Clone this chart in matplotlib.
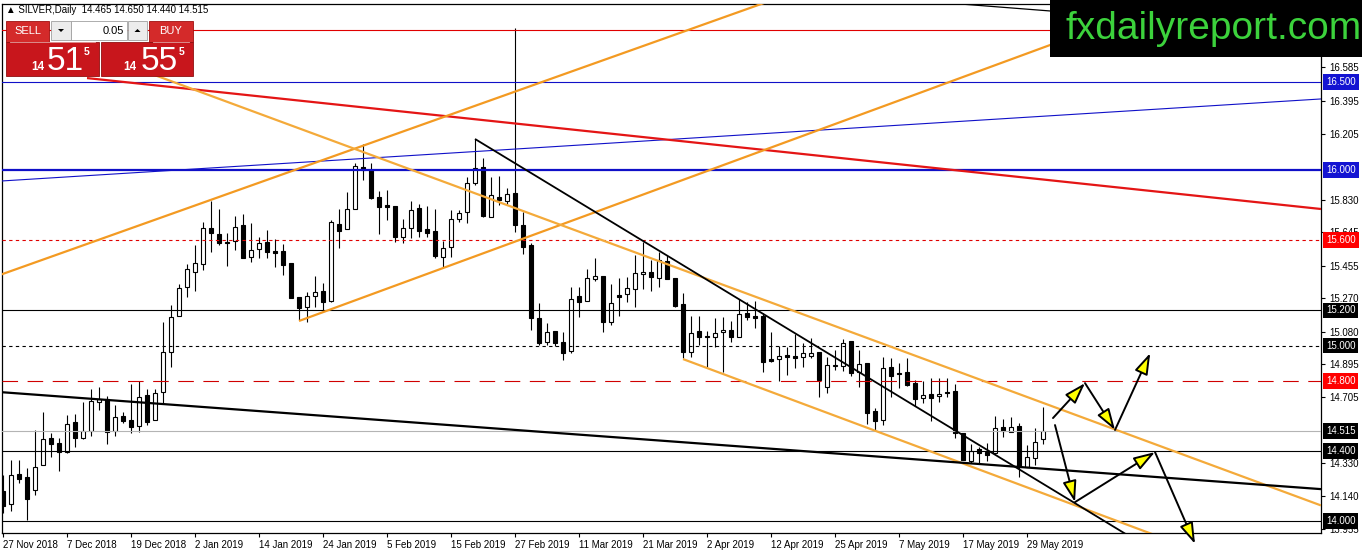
import matplotlib
matplotlib.use('Agg')
import matplotlib.pyplot as plt
from matplotlib.patches import Rectangle, Polygon
import numpy as np

W, H = 1362, 554
FONT = ['Liberation Sans', 'DejaVu Sans']
plt.rcParams['font.family'] = FONT

# SILVER daily candles, first bar = 27 Nov 2018, last bar = 4 Jun 2019
opens = [14.171, 14.097, 14.268, 14.251, 14.177, 14.319, 14.473, 14.444, 14.393, 14.564,
         14.473, 14.513, 14.678, 14.695, 14.513, 14.598, 14.576, 14.541, 14.718, 14.576,
         14.735, 14.963, 15.168, 15.333, 15.419, 15.464, 15.670, 15.635, 15.590, 15.595,
         15.687, 15.504, 15.550, 15.590, 15.538, 15.538, 15.470, 15.276, 15.219, 15.282,
         15.311, 15.254, 15.692, 15.664, 15.778, 16.017, 16.000, 15.846, 15.801, 15.795,
         15.618, 15.670, 15.783, 15.664, 15.652, 15.504, 15.561, 15.721, 15.761, 15.926,
         16.017, 15.732, 15.846, 15.823, 15.869, 15.687, 15.573, 15.157, 15.020, 15.083,
         15.020, 14.969, 15.282, 15.254, 15.379, 15.396, 15.134, 15.288, 15.293, 15.322,
         15.407, 15.419, 15.385, 15.481, 15.385, 15.236, 14.963, 15.083, 15.054, 15.048,
         15.077, 15.088, 15.048, 15.185, 15.168, 15.168, 14.923, 14.923, 14.946, 14.940,
         14.934, 14.940, 14.963, 14.764, 14.883, 14.883, 15.026, 14.849, 14.900, 14.627,
         14.576, 14.877, 14.843, 14.849, 14.786, 14.701, 14.724, 14.712, 14.735, 14.741,
         14.501, 14.342, 14.410, 14.393, 14.387, 14.536, 14.507, 14.541, 14.308, 14.359, 14.465]
highs = [14.262, 14.348, 14.348, 14.302, 14.519, 14.621, 14.501, 14.473, 14.604, 14.610,
         14.678, 14.752, 14.764, 14.712, 14.661, 14.621, 14.781, 14.798, 14.752, 14.752,
         15.134, 15.231, 15.350, 15.464, 15.573, 15.704, 15.823, 15.778, 15.641, 15.738,
         15.749, 15.698, 15.618, 15.658, 15.607, 15.578, 15.470, 15.276, 15.305, 15.396,
         15.356, 15.715, 15.778, 15.875, 16.040, 16.148, 16.040, 15.880, 15.886, 15.795,
         15.721, 15.823, 15.806, 15.795, 15.778, 15.595, 15.772, 15.772, 15.960, 16.177,
         16.068, 15.960, 15.966, 15.897, 16.809, 15.761, 15.584, 15.242, 15.128, 15.083,
         15.077, 15.333, 15.333, 15.436, 15.499, 15.396, 15.350, 15.385, 15.390, 15.516,
         15.590, 15.487, 15.533, 15.516, 15.385, 15.299, 15.168, 15.168, 15.083, 15.157,
         15.162, 15.140, 15.265, 15.248, 15.254, 15.185, 15.077, 14.997, 14.991, 15.066,
         15.014, 15.043, 14.963, 14.934, 14.974, 15.037, 15.026, 14.974, 14.900, 14.644,
         14.934, 14.929, 14.900, 14.929, 14.803, 14.798, 14.815, 14.815, 14.815, 14.781,
         14.501, 14.439, 14.422, 14.444, 14.598, 14.581, 14.593, 14.558, 14.433, 14.530, 14.650]
lows = [14.046, 14.057, 14.217, 14.005, 14.148, 14.319, 14.365, 14.285, 14.387, 14.422,
        14.467, 14.484, 14.632, 14.439, 14.484, 14.558, 14.501, 14.507, 14.547, 14.576,
        14.672, 14.877, 15.168, 15.276, 15.311, 15.430, 15.533, 15.573, 15.453, 15.544,
        15.499, 15.476, 15.499, 15.499, 15.447, 15.402, 15.271, 15.145, 15.134, 15.219,
        15.191, 15.248, 15.556, 15.664, 15.778, 15.943, 15.835, 15.635, 15.715, 15.590,
        15.584, 15.613, 15.618, 15.618, 15.499, 15.447, 15.504, 15.704, 15.698, 15.915,
        15.732, 15.732, 15.801, 15.806, 15.647, 15.521, 15.088, 15.003, 15.003, 14.997,
        14.917, 14.957, 15.162, 15.254, 15.368, 15.077, 15.117, 15.168, 15.248, 15.219,
        15.322, 15.311, 15.333, 15.379, 15.219, 14.929, 14.934, 15.003, 14.877, 14.991,
        14.849, 15.020, 15.048, 15.145, 15.100, 14.849, 14.906, 14.798, 14.832, 14.872,
        14.877, 14.929, 14.707, 14.729, 14.860, 14.855, 14.826, 14.764, 14.553, 14.519,
        14.547, 14.707, 14.758, 14.769, 14.655, 14.672, 14.570, 14.678, 14.707, 14.473,
        14.348, 14.330, 14.330, 14.342, 14.387, 14.479, 14.507, 14.251, 14.308, 14.319, 14.440]
closes = [14.085, 14.262, 14.239, 14.125, 14.308, 14.467, 14.439, 14.393, 14.553, 14.473,
          14.513, 14.684, 14.695, 14.507, 14.593, 14.570, 14.536, 14.707, 14.564, 14.729,
          14.963, 15.162, 15.328, 15.436, 15.470, 15.670, 15.641, 15.584, 15.584, 15.675,
          15.499, 15.544, 15.584, 15.533, 15.527, 15.459, 15.271, 15.214, 15.282, 15.305,
          15.248, 15.704, 15.652, 15.778, 16.023, 16.000, 15.840, 15.789, 15.789, 15.618,
          15.670, 15.772, 15.652, 15.641, 15.510, 15.556, 15.721, 15.755, 15.926, 16.011,
          15.738, 15.858, 15.829, 15.863, 15.687, 15.561, 15.157, 15.014, 15.077, 15.014,
          14.957, 15.265, 15.248, 15.385, 15.396, 15.134, 15.242, 15.276, 15.328, 15.413,
          15.419, 15.390, 15.487, 15.379, 15.225, 14.963, 15.071, 15.048, 15.048, 15.071,
          15.088, 15.048, 15.179, 15.162, 15.157, 14.906, 14.912, 14.940, 14.934, 14.929,
          14.957, 14.957, 14.803, 14.889, 14.889, 15.014, 14.843, 14.895, 14.615, 14.570,
          14.872, 14.826, 14.838, 14.775, 14.695, 14.718, 14.701, 14.724, 14.729, 14.501,
          14.348, 14.399, 14.387, 14.376, 14.530, 14.513, 14.536, 14.308, 14.365, 14.450, 14.515]

date_labels = ['27 Nov 2018', '7 Dec 2018', '19 Dec 2018', '2 Jan 2019', '14 Jan 2019',
               '24 Jan 2019', '5 Feb 2019', '15 Feb 2019', '27 Feb 2019', '11 Mar 2019',
               '21 Mar 2019', '2 Apr 2019', '12 Apr 2019', '25 Apr 2019', '7 May 2019',
               '17 May 2019', '29 May 2019']
# scale labels that are not hidden behind a price tag
price_ticks = [16.585, 16.395, 16.205, 15.830, 15.645, 15.455, 15.270, 15.080,
               14.895, 14.705, 14.330, 14.140, 13.955]

# horizontal levels with a price tag on the scale
levels = [16.500, 16.000, 15.600, 15.200, 15.000, 14.800, 14.515, 14.400, 14.000]
top_level = 16.798  # red line without a tag

# trend lines, (bar, price) end points
blue_trend = [(-0.4, 15.937), (164.75, 16.405)]
red_trend = [(10.5, 16.524), (164.75, 15.778)]
black_top = [(118.0, 16.952), (140.0, 16.874)]
orange_up_a = [(-0.4, 15.402), (96.0, 16.966)]
orange_up_b = [(37.0, 15.140), (140.0, 16.865)]
orange_down_a = [(17.0, 16.574), (164.75, 14.089)]
orange_down_b = [(85.0, 14.923), (145.0, 13.903)]
black_down = [(59.0, 16.177), (141.0, 13.908)]
black_long = [(-0.4, 14.735), (164.75, 14.182)]

# scenario arrows (start bar, start price, end bar, end price)
arrows = [(131.25, 14.587, 135.25, 14.786),
          (135.25, 14.786, 139.0, 14.519),
          (139.0, 14.519, 143.4, 14.957),
          (131.5, 14.547, 134.0, 14.108),
          (134.0, 14.108, 144.0, 14.393),
          (144.0, 14.393, 149.0, 13.870)]

fig = plt.figure(figsize=(W / 100, H / 100), dpi=100)
ax = fig.add_axes([2 / W, 1 - 533 / H, 1319 / W, 529 / H])
ax.set_xlim(-0.125, 164.75)
ax.set_ylim(13.932, 16.946)

# candles
x = np.arange(len(opens))
o = np.array(opens)
c = np.array(closes)
up = c >= o
bottom = np.minimum(o, c)
height = np.maximum(np.abs(c - o), 0.002)
ax.vlines(x, lows, highs, color='black', lw=0.8, zorder=3)
ax.bar(x[up], height[up], bottom=bottom[up], width=0.6, color='white',
       edgecolor='black', lw=0.8, zorder=4)
ax.bar(x[~up], height[~up], bottom=bottom[~up], width=0.6, color='black',
       edgecolor='black', lw=0.8, zorder=4)

# horizontal levels
lvl_style = [('#1010c8', 0.8, '-', '#1414d2'),
             ('#1010c8', 1.6, '-', '#1414d2'),
             ('#e00000', 0.8, (0, (3, 3)), '#ff0000'),
             ('black', 0.8, '-', 'black'),
             ('black', 0.8, (0, (3, 3)), 'black'),
             ('#d00000', 0.8, (0, (14, 8.6)), '#ff0000'),
             ('#b4b4b4', 0.8, '-', 'black'),
             ('black', 0.8, '-', 'black'),
             ('black', 0.8, '-', 'black')]
for lvl, (col, lw, ls, box) in zip(levels, lvl_style):
    ax.axhline(lvl, color=col, lw=lw, ls=ls, zorder=5)
    ax.annotate('%.3f' % lvl, xy=(1, lvl), xycoords=ax.get_yaxis_transform(),
                xytext=(5, 0), textcoords='offset pixels', va='center', ha='left',
                fontsize=7, color='white', annotation_clip=False, zorder=8,
                bbox=dict(boxstyle='square,pad=0.3', fc=box, ec='none'))
ax.axhline(top_level, color='#e00000', lw=0.8, zorder=5)

# trend lines
def seg(pts, color, lw):
    ax.plot([p[0] for p in pts], [p[1] for p in pts], color=color, lw=lw, zorder=5,
            solid_capstyle='butt')

seg(blue_trend, '#1010c8', 0.8)
seg(red_trend, '#e41515', 1.6)
seg(black_top, 'black', 0.9)
seg(orange_up_a, '#f39a22', 1.6)
seg(orange_up_b, '#f39a22', 1.6)
seg(orange_down_a, '#f4aa3a', 1.6)
seg(orange_down_b, '#f4aa3a', 1.6)
seg(black_down, 'black', 1.3)
seg(black_long, 'black', 1.6)

for x0, y0, x1, y1 in arrows:
    ax.annotate('', xy=(x1, y1), xytext=(x0, y0), annotation_clip=False, zorder=7,
                arrowprops=dict(arrowstyle='-|>,head_length=0.65,head_width=0.21',
                                fc='#ffff00', ec='black', lw=1.4, mutation_scale=20,
                                shrinkA=0, shrinkB=0, clip_on=False))

# axes look
for sp in ax.spines.values():
    sp.set_color('black')
    sp.set_linewidth(0.9)
ax.yaxis.tick_right()
ax.set_yticks(price_ticks)
ax.set_yticklabels(['%.3f' % v for v in price_ticks])
ax.set_xticks(np.arange(0, 8 * len(date_labels), 8))
ax.set_xticklabels(date_labels, ha='left')
ax.tick_params(axis='y', labelsize=7, length=3, pad=3, direction='out')
ax.tick_params(axis='x', labelsize=7, length=3, pad=2, direction='out')

ax.text(4 / 1319, 1 - 6 / 529, '\u25b2 SILVER,Daily  14.465 14.650 14.440 14.515',
        transform=ax.transAxes, fontsize=7, va='center', ha='left', zorder=9)

# overlay in pixel units for the trade panel and the logo
ov = fig.add_axes([0, 0, 1, 1], zorder=10)
ov.set_xlim(0, W)
ov.set_ylim(H, 0)
ov.axis('off')
ov.patch.set_alpha(0)

red = '#c8161c'
ov.add_patch(Rectangle((6, 21), 43, 21, fc='#d42a2a', ec='#a01010', lw=0.6))
ov.add_patch(Rectangle((149, 21), 44, 21, fc='#d42a2a', ec='#a01010', lw=0.6))
ov.add_patch(Rectangle((51, 21), 20, 19, fc='#ececec', ec='#a0a0a0', lw=0.6))
ov.add_patch(Rectangle((71, 21), 56, 19, fc='white', ec='#a0a0a0', lw=0.6))
ov.add_patch(Rectangle((128, 21), 19, 19, fc='#ececec', ec='#a0a0a0', lw=0.6))
ov.add_patch(Polygon([(58, 29), (64, 29), (61, 32)], closed=True, fc='black', ec='none'))
ov.add_patch(Polygon([(134.5, 32), (140.5, 32), (137.5, 29)], closed=True, fc='black', ec='none'))
ov.add_patch(Rectangle((6, 42), 93, 34, fc=red, ec='#901010', lw=0.6))
ov.add_patch(Rectangle((101, 42), 92, 34, fc=red, ec='#901010', lw=0.6))
ov.plot([10, 95], [41.5, 41.5], color='#e8a0a0', lw=0.6)
ov.plot([153, 189], [41.5, 41.5], color='#e8a0a0', lw=0.6)

ov.text(27.5, 31.5, 'SELL', color='white', fontsize=8, ha='center', va='center')
ov.text(171, 31.5, 'BUY', color='white', fontsize=8, ha='center', va='center')
ov.text(124, 30.5, '0.05', color='black', fontsize=8, ha='right', va='center')
ov.text(31, 70, '14', color='white', fontsize=8.5, fontweight='bold', ha='left', va='baseline')
ov.text(47, 70, '51', color='white', fontsize=24, ha='left', va='baseline')
ov.text(84, 55, '5', color='white', fontsize=7.5, fontweight='bold', ha='left', va='baseline')
ov.text(123, 70, '14', color='white', fontsize=8.5, fontweight='bold', ha='left', va='baseline')
ov.text(141, 70, '55', color='white', fontsize=24, ha='left', va='baseline')
ov.text(179, 55, '5', color='white', fontsize=7.5, fontweight='bold', ha='left', va='baseline')

ov.add_patch(Rectangle((1050, 0), 312, 57, fc='black', ec='none'))
ov.text(1066, 39, 'fxdailyreport.com', color='#3cd23c', fontsize=28,
        ha='left', va='baseline')

fig.savefig('out.png', dpi=100)
